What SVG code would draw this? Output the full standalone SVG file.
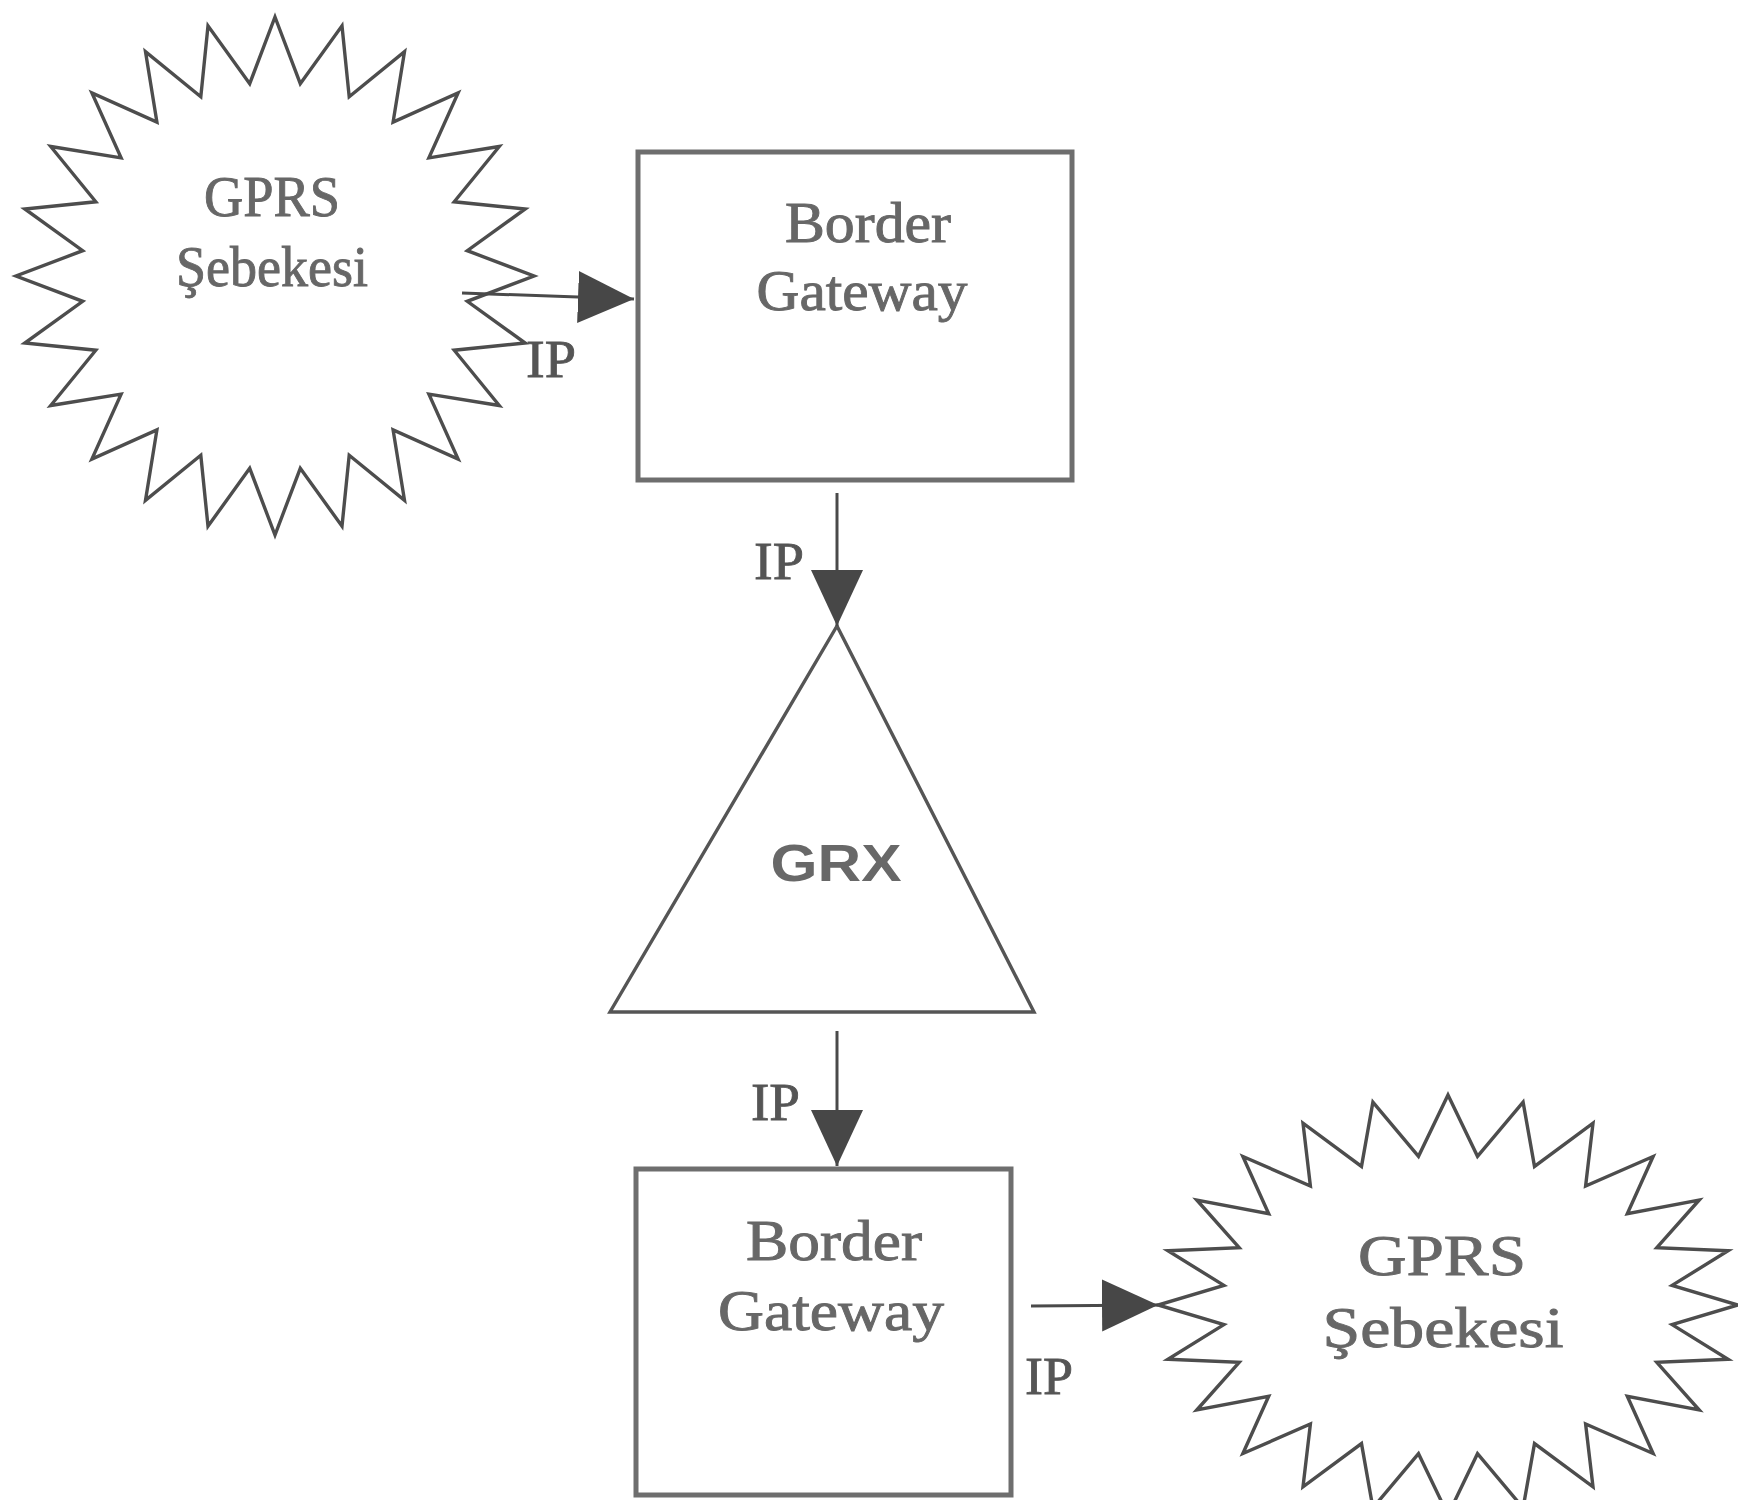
<svg xmlns="http://www.w3.org/2000/svg" width="1738" height="1500" viewBox="0 0 1738 1500">
<defs>
<style>
.star{fill:#ffffff;stroke:#4d4d4d;stroke-width:3.4;stroke-linejoin:miter}
.box{fill:#ffffff;stroke:#6e6e6e;stroke-width:5}
.tri{fill:#ffffff;stroke:#555555;stroke-width:3.4}
.lbl{font-family:"Liberation Serif","Times New Roman",serif;fill:#676767;stroke:#676767;stroke-width:0.9;text-anchor:middle}
.sans{font-family:"Liberation Sans",Arial,sans-serif;font-weight:bold;fill:#686868;text-anchor:middle}
.ip{font-family:"Liberation Serif","Times New Roman",serif;fill:#555555;stroke:#555555;stroke-width:0.8;font-size:52px}
.conn{stroke:#4a4a4a;stroke-width:3;fill:none}
</style>
<marker id="arrow" markerUnits="userSpaceOnUse" markerWidth="58" markerHeight="54" refX="56" refY="27" orient="auto">
<path d="M0,1 L56,27 L0,53 Z" fill="#474747"/>
</marker>
</defs>
<rect width="1738" height="1500" fill="#ffffff"/>

<g id="gprs1">
<polygon class="star" points="275,17 300.3,83.7 342,25.8 349.2,96.8 404.5,51.7 393.1,122.1 458.1,92.9 428.9,157.9 499.3,146.5 454.2,201.8 525.2,209 467.3,250.7 534,276 467.3,301.3 525.2,343 454.2,350.2 499.3,405.5 428.9,394.1 458.1,459.1 393.1,429.9 404.5,500.3 349.2,455.2 342,526.2 300.3,468.3 275,535 249.7,468.3 208,526.2 200.8,455.2 145.5,500.3 156.9,429.9 91.9,459.1 121.1,394.1 50.7,405.5 95.8,350.2 24.8,343 82.7,301.3 16,276 82.7,250.7 24.8,209 95.8,201.8 50.7,146.5 121.1,157.9 91.9,92.9 156.9,122.1 145.5,51.7 200.8,96.8 208,25.8 249.7,83.7"/>
<text class="lbl" x="272" y="216" font-size="56" textLength="136" lengthAdjust="spacingAndGlyphs">GPRS</text>
<text class="lbl" x="272" y="286" font-size="56" textLength="192" lengthAdjust="spacingAndGlyphs">Şebekesi</text>
</g>

<g id="bg1">
<rect class="box" x="638" y="152" width="434" height="328"/>
<text class="lbl" x="868" y="242" font-size="56" textLength="166" lengthAdjust="spacingAndGlyphs">Border</text>
<text class="lbl" x="862" y="310" font-size="56" textLength="211" lengthAdjust="spacingAndGlyphs">Gateway</text>
</g>

<g id="grx">
<polygon class="tri" points="837,626 1034,1012 610,1012"/>
<text class="sans" x="836" y="881" font-size="52" textLength="131" lengthAdjust="spacingAndGlyphs">GRX</text>
</g>

<g id="bg2">
<rect class="box" x="636" y="1169" width="375" height="326"/>
<text class="lbl" x="834" y="1260" font-size="56" textLength="176" lengthAdjust="spacingAndGlyphs">Border</text>
<text class="lbl" x="831" y="1330" font-size="56" textLength="226" lengthAdjust="spacingAndGlyphs">Gateway</text>
</g>

<g id="gprs2">
<polygon class="star" points="1448,1095 1477.5,1156.3 1523.1,1102.2 1534.5,1166.4 1593,1123.1 1585.6,1186 1653.1,1156.5 1627.3,1213.7 1699.2,1200 1656.8,1247.6 1728.1,1250.7 1672.1,1285.4 1738,1305 1672.1,1324.6 1728.1,1359.3 1656.8,1362.4 1699.2,1410 1627.3,1396.3 1653.1,1453.5 1585.6,1424 1593,1486.9 1534.5,1443.6 1523.1,1507.9 1477.5,1453.7 1448,1515 1418.5,1453.7 1372.9,1507.9 1361.5,1443.6 1303,1486.9 1310.4,1424 1242.9,1453.5 1268.7,1396.3 1196.8,1410 1239.2,1362.4 1167.9,1359.3 1223.9,1324.6 1158,1305 1223.9,1285.4 1167.9,1250.7 1239.2,1247.6 1196.8,1200 1268.7,1213.7 1242.9,1156.5 1310.4,1186 1303,1123.1 1361.5,1166.4 1372.9,1102.2 1418.5,1156.3"/>
<text class="lbl" x="1442" y="1275" font-size="56" textLength="168" lengthAdjust="spacingAndGlyphs">GPRS</text>
<text class="lbl" x="1443" y="1347" font-size="56" textLength="241" lengthAdjust="spacingAndGlyphs">Şebekesi</text>
</g>

<g id="connectors">
<line class="conn" x1="462" y1="293" x2="634" y2="299" marker-end="url(#arrow)"/>
<line class="conn" x1="837" y1="493" x2="837" y2="626" marker-end="url(#arrow)"/>
<line class="conn" x1="837" y1="1031" x2="837" y2="1166" marker-end="url(#arrow)"/>
<line class="conn" x1="1031" y1="1306" x2="1158" y2="1305" marker-end="url(#arrow)"/>
<text class="ip" x="526" y="377" textLength="50" lengthAdjust="spacingAndGlyphs">IP</text>
<text class="ip" x="754" y="579" textLength="50" lengthAdjust="spacingAndGlyphs">IP</text>
<text class="ip" x="751" y="1120" textLength="49" lengthAdjust="spacingAndGlyphs">IP</text>
<text class="ip" x="1025" y="1394" textLength="48" lengthAdjust="spacingAndGlyphs">IP</text>
</g>
</svg>
